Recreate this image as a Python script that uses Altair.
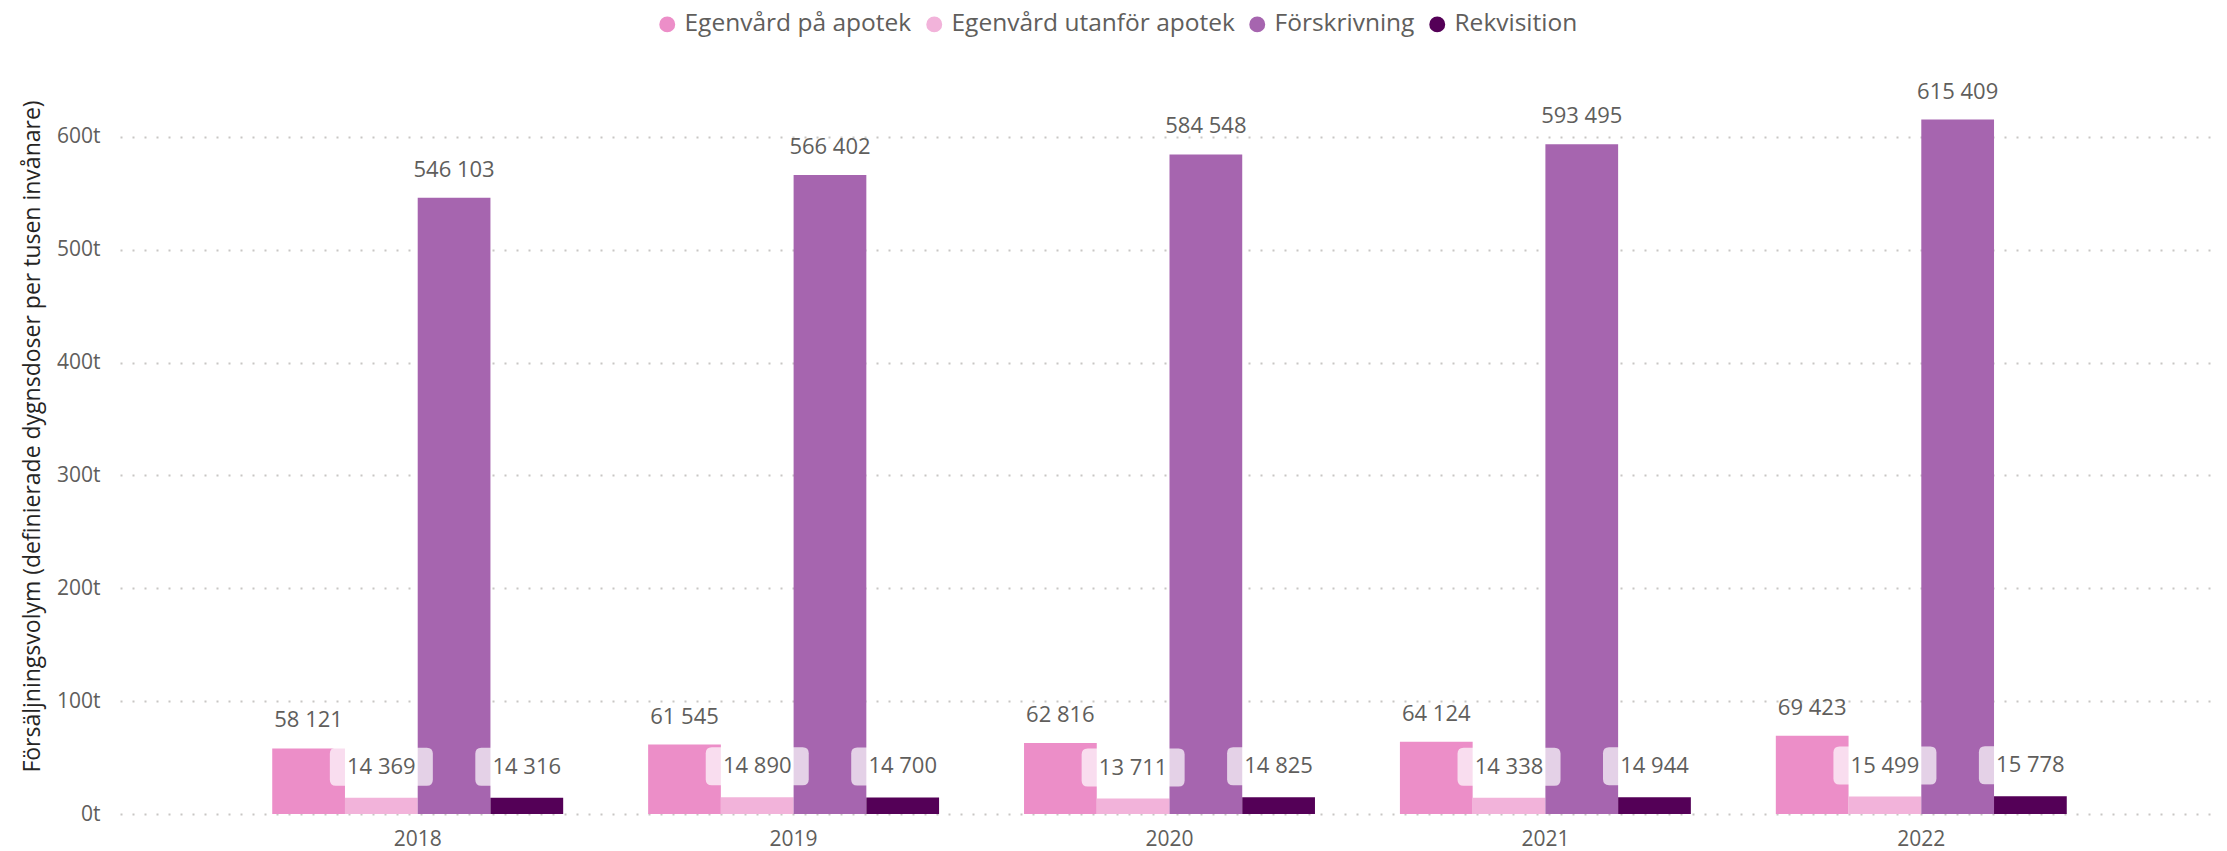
import altair as alt
import pandas as pd

years = ["2018", "2019", "2020", "2021", "2022"]
series = ["Egenvård på apotek", "Egenvård utanför apotek", "Förskrivning", "Rekvisition"]
egen_apotek = [58121, 61545, 62816, 64124, 69423]
egen_utanfor = [14369, 14890, 13711, 14338, 15499]
forskrivning = [546103, 566402, 584548, 593495, 615409]
rekvisition = [14316, 14700, 14825, 14944, 15778]
colors = ["#EC8EC8", "#F2B3DA", "#A665AF", "#540057"]
y_ticks = [0, 100000, 200000, 300000, 400000, 500000, 600000]
y_title = "Försäljningsvolym (definierade dygnsdoser per tusen invånare)"

rows = []
for s, vals in zip(series, [egen_apotek, egen_utanfor, forskrivning, rekvisition]):
    for yr, v in zip(years, vals):
        rows.append({"year": yr, "series": s, "value": v,
                     "label": f"{v:,}".replace(",", " ")})
df = pd.DataFrame(rows)

FONT = "Open Sans"
GRAY = "#605E5C"

x = alt.X("year:N", sort=years, title=None,
          scale=alt.Scale(paddingInner=0.226, paddingOuter=0.405),
          axis=alt.Axis(labelAngle=0, ticks=False, domain=False, grid=False,
                        labelFont=FONT, labelFontSize=21, labelColor=GRAY,
                        labelPadding=14))
xoff = alt.XOffset("series:N", sort=series, scale=alt.Scale(paddingInner=0, paddingOuter=0))
y = alt.Y("value:Q", title=y_title,
          scale=alt.Scale(domain=[0, 670000], nice=False),
          axis=alt.Axis(values=y_ticks, labelExpr="datum.value / 1000 + 't'",
                        ticks=False, domain=False, grid=True,
                        gridDash=[2, 10], gridColor="#C8C6C4", gridWidth=2,
                        labelFont=FONT, labelFontSize=21, labelColor=GRAY,
                        labelPadding=20, titleFont=FONT, titleFontSize=23,
                        titleFontWeight="normal", titleColor="#252423",
                        titlePadding=12))
color = alt.Color("series:N", sort=series,
                  scale=alt.Scale(domain=series, range=colors),
                  legend=alt.Legend(title=None, orient="none", direction="horizontal",
                                    columns=4, legendX=535, legendY=-46,
                                    symbolType="circle", symbolSize=254,
                                    symbolStrokeWidth=0, labelFont=FONT,
                                    labelFontSize=24.5, labelColor=GRAY,
                                    labelLimit=0, labelOffset=5,
                                    columnPadding=10, padding=0))

bars = alt.Chart(df).mark_bar().encode(x=x, xOffset=xoff, y=y, color=color)

big = ["Egenvård på apotek", "Förskrivning"]
small = ["Egenvård utanför apotek", "Rekvisition"]

box_path = ("M -0.883 -0.369 L 0.883 -0.369 Q 1 -0.369 1 -0.252 L 1 0.252 "
            "Q 1 0.369 0.883 0.369 L -0.883 0.369 Q -1 0.369 -1 0.252 "
            "L -1 -0.252 Q -1 -0.369 -0.883 -0.369 Z")
boxes = alt.Chart(df).transform_filter(
    alt.FieldOneOfPredicate(field="series", oneOf=small)
).mark_point(shape=box_path, filled=True, size=10609, color="white",
             opacity=0.7, strokeWidth=0, yOffset=-31).encode(x=x, xOffset=xoff, y=y)

text_big = alt.Chart(df).transform_filter(
    alt.FieldOneOfPredicate(field="series", oneOf=big)
).mark_text(font=FONT, fontSize=22, color=GRAY, baseline="middle",
            dy=-28).encode(x=x, xOffset=xoff, y=y, text="label:N")
text_small = alt.Chart(df).transform_filter(
    alt.FieldOneOfPredicate(field="series", oneOf=small)
).mark_text(font=FONT, fontSize=22, color=GRAY, baseline="middle",
            dy=-31).encode(x=x, xOffset=xoff, y=y, text="label:N")

chart = alt.layer(bars, boxes, text_big, text_small).properties(
    width=2099, height=756,
    autosize=alt.AutoSizeParams(type="none"),
    padding={"left": 112, "top": 50, "right": 0, "bottom": 37},
).configure(background="white").configure_view(stroke=None, strokeWidth=0)

chart.save("out.html", embed_options={"renderer": "svg", "actions": False})
